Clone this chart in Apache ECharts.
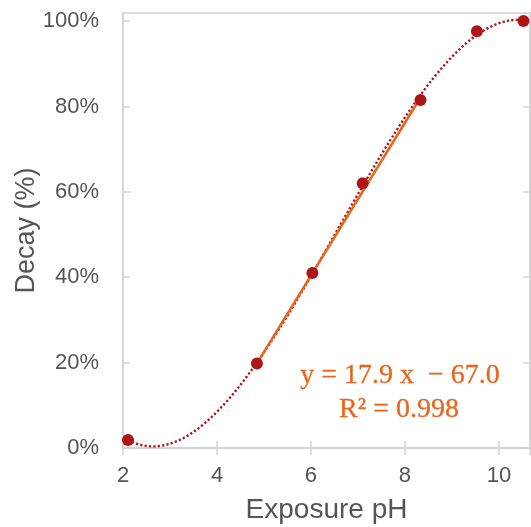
<!DOCTYPE html>
<html>
<head>
<meta charset="utf-8">
<script src="https://cdn.jsdelivr.net/npm/echarts@6/dist/echarts.min.js"></script>
<style>
  html, body { margin: 0; padding: 0; background: #fff; }
  #chart { width: 531px; height: 527px; }
</style>
</head>
<body>
<div id="chart"></div>
<script>
// Measured decay at each exposure pH
const exposurePH = [2.106, 4.85, 6.03, 7.10, 8.33, 9.53, 10.52];
const decayPct   = [1.9, 19.8, 41.0, 62.0, 81.5, 97.6, 100.0];

// Linear trend over the middle points (pH 4.85 to 8.33)
const linearFitRange = [4.85, 8.33];
const linearSlope = 17.9;
const linearIntercept = -67.0;
const linearR2 = 0.998;

// Axis ticks
const xTicks = [2, 4, 6, 8, 10];
const yTicks = [0, 20, 40, 60, 80, 100];

// Least-squares cubic through all measurements (dotted trendline)
function cubicFit(xs, ys) {
  const n = 4;
  const cx = xs.reduce((a, b) => a + b, 0) / xs.length;
  const A = [], B = [];
  for (let r = 0; r < n; r++) {
    A.push(new Array(n).fill(0));
    B.push(0);
  }
  xs.forEach((x, i) => {
    const t = x - cx;
    for (let r = 0; r < n; r++) {
      for (let c = 0; c < n; c++) A[r][c] += Math.pow(t, r + c);
      B[r] += ys[i] * Math.pow(t, r);
    }
  });
  for (let p = 0; p < n; p++) {
    let best = p;
    for (let r = p + 1; r < n; r++) if (Math.abs(A[r][p]) > Math.abs(A[best][p])) best = r;
    [A[p], A[best]] = [A[best], A[p]];
    [B[p], B[best]] = [B[best], B[p]];
    for (let r = p + 1; r < n; r++) {
      const f = A[r][p] / A[p][p];
      for (let c = p; c < n; c++) A[r][c] -= f * A[p][c];
      B[r] -= f * B[p];
    }
  }
  const coef = new Array(n).fill(0);
  for (let r = n - 1; r >= 0; r--) {
    let s = B[r];
    for (let c = r + 1; c < n; c++) s -= A[r][c] * coef[c];
    coef[r] = s / A[r][r];
  }
  return x => {
    const t = x - cx;
    return coef[0] + coef[1] * t + coef[2] * t * t + coef[3] * t * t * t;
  };
}

const cubic = cubicFit(exposurePH, decayPct);
const xLo = Math.min(...exposurePH), xHi = Math.max(...exposurePH);
const curveData = [];
const steps = 240;
for (let i = 0; i <= steps; i++) {
  const x = xLo + (xHi - xLo) * i / steps;
  curveData.push([x, cubic(x)]);
}
const lineData = linearFitRange.map(x => [x, linearSlope * x + linearIntercept]);

const fmt = v => v.toFixed(1);
const eqText = 'y = ' + fmt(linearSlope) + ' x  \u2212 ' + fmt(Math.abs(linearIntercept));
const r2Text = 'R\u00B2 = ' + linearR2.toFixed(3);

const gridColor = '#d2d2d2';
const textColor = '#555555';
const fitColor = '#E8661C';
const sans = 'Liberation Sans, Arial, sans-serif';
const serif = 'Liberation Serif, Times New Roman, serif';

const X_MIN = 2, X_MAX = 10.66, Y_MIN = 0, Y_MAX = 101.9;

function baseX(extra) {
  return Object.assign({
    type: 'value', min: X_MIN, max: X_MAX, interval: 2,
    splitLine: { show: false },
    axisLine: { show: true, lineStyle: { color: gridColor, width: 1.5 } },
    axisTick: { show: true, inside: true, length: 7, lineStyle: { color: gridColor, width: 1.5 } }
  }, extra);
}
function baseY(extra) {
  return Object.assign({
    type: 'value', min: Y_MIN, max: Y_MAX, interval: 20,
    splitLine: { show: false },
    axisLine: { show: true, lineStyle: { color: gridColor, width: 1.5 } },
    axisTick: { show: true, inside: true, length: 7, lineStyle: { color: gridColor, width: 1.5 } }
  }, extra);
}

const chart = echarts.init(document.getElementById('chart'), null, { renderer: 'canvas' });
chart.setOption({
  animation: false,
  backgroundColor: '#fff',
  grid: {
    left: 123, right: 1, top: 13, bottom: 79,
    containLabel: false, outerBoundsMode: 'none',
    show: true, borderColor: gridColor, borderWidth: 1.5
  },
  xAxis: [
    baseX({
      position: 'bottom',
      name: 'Exposure pH', nameLocation: 'middle', nameGap: 48, nameMoveOverlap: false,
      nameTextStyle: { color: textColor, fontSize: 28, fontFamily: sans },
      axisLabel: {
        show: true, margin: 17, color: textColor, fontSize: 22, fontFamily: sans,
        showMaxLabel: false,
        formatter: v => (xTicks.indexOf(v) >= 0 ? String(v) : '')
      }
    }),
    baseX({ position: 'top', axisLabel: { show: false } })
  ],
  yAxis: [
    baseY({
      position: 'left',
      name: 'Decay (%)', nameLocation: 'middle', nameGap: 83, nameRotate: 90, nameMoveOverlap: false,
      nameTextStyle: { color: textColor, fontSize: 27, fontFamily: sans },
      axisLabel: {
        show: true, margin: 24, color: textColor, fontSize: 22, fontFamily: sans,
        showMaxLabel: false,
        formatter: v => (yTicks.indexOf(v) >= 0 ? v + '%' : '')
      }
    }),
    baseY({ position: 'right', axisLabel: { show: false } })
  ],
  series: [
    {
      name: 'Cubic trend', type: 'line', data: curveData,
      showSymbol: false, symbol: 'none', smooth: false, silent: true,
      lineStyle: { color: '#AE1519', width: 2.4, type: [2.2, 2.2] },
      z: 2
    },
    {
      name: 'Linear fit', type: 'line', data: lineData,
      showSymbol: false, symbol: 'none', silent: true,
      lineStyle: { color: fitColor, width: 2.5 },
      z: 3
    },
    {
      name: 'Decay', type: 'scatter', data: exposurePH.map((x, i) => [x, decayPct[i]]),
      symbol: 'circle', symbolSize: 12,
      itemStyle: { color: '#AE1518', opacity: 1 },
      z: 4
    }
  ],
  graphic: [
    {
      type: 'text', x: 400, y: 376, z: 10,
      style: {
        text: eqText, fill: fitColor, font: '28px ' + serif,
        textAlign: 'center', textVerticalAlign: 'middle',
        stroke: fitColor, lineWidth: 0.3
      }
    },
    {
      type: 'text', x: 399, y: 410, z: 10,
      style: {
        text: r2Text, fill: fitColor, font: '28px ' + serif,
        textAlign: 'center', textVerticalAlign: 'middle',
        stroke: fitColor, lineWidth: 0.3
      }
    }
  ]
});
</script>
</body>
</html>
